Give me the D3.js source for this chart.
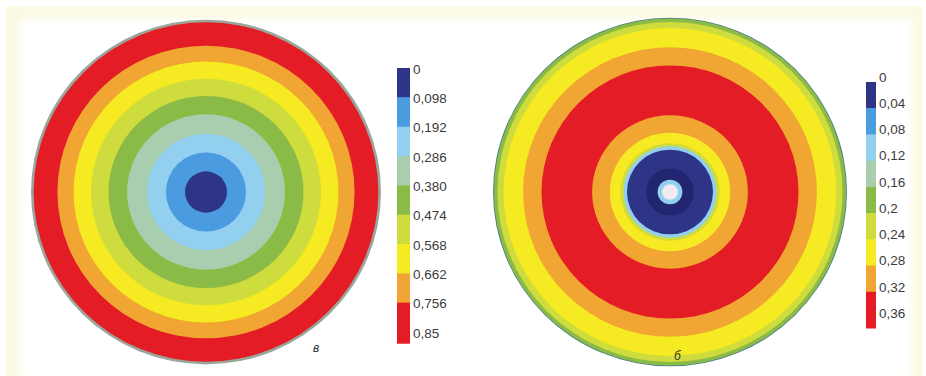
<!DOCTYPE html>
<html>
<head>
<meta charset="utf-8">
<script src="https://cdn.jsdelivr.net/npm/d3@7"></script>
<style>
  body { margin: 0; background: #fff; }
  svg { display: block; font-family: "Liberation Sans", Arial, sans-serif; }
</style>
</head>
<body>
<svg id="chart" width="926" height="376"></svg>
<script>
// legend colour classes, 9 levels (shared by both panels)
var levelColors = ["#2e3487", "#4b9be0", "#93cfee", "#a8cdaf", "#8bbb46", "#cfdc3c", "#f6ea20", "#f1a530", "#e41d26"];

// panel "в": ring outer radii (fraction of disc radius) and their level
var leftEdges  = [0.12, 0.229, 0.337, 0.451, 0.557, 0.657, 0.757, 0.849, 0.985];
var leftLevels = [0, 1, 2, 3, 4, 5, 6, 7, 8];
var leftTicks  = ["0", "0,098", "0,192", "0,286", "0,380", "0,474", "0,568", "0,662", "0,756", "0,85"];

// panel "б": -1 = pale centre, 9 = darker navy ring
var rightEdges  = [0.045, 0.07, 0.135, 0.243, 0.262, 0.28, 0.34, 0.44, 0.726, 0.83, 0.94, 0.975, 0.995];
var rightLevels = [-1, 2, 9, 0, 2, 5, 6, 7, 8, 7, 6, 5, 4];
var rightTicks  = ["0", "0,04", "0,08", "0,12", "0,16", "0,2", "0,24", "0,28", "0,32", "0,36"];

function colorOf(level) {
  if (level == -1) return "#f2eaee";
  if (level == 9) return "#23266f";
  return levelColors[level];
}

var svg = d3.select("#chart");

// soft edges like a scanned print
var defs = svg.append("defs");
defs.append("filter").attr("id", "soft")
  .append("feGaussianBlur").attr("stdDeviation", 0.7);
defs.append("filter").attr("id", "frame")
  .append("feGaussianBlur").attr("stdDeviation", 3);

// pale cream frame of the page
svg.append("rect").attr("x", 6).attr("y", 6).attr("width", 916).attr("height", 372)
  .attr("fill", "#fbfae4");
svg.append("rect").attr("x", 20).attr("y", 19).attr("width", 892).attr("height", 360)
  .attr("fill", "#fff").attr("filter", "url(#frame)");

/* draw one contour disc */
function drawDisc(cx, cy, R, edges, levels, outline) {
  var r = d3.scaleLinear().domain([0, 1]).range([0, R]);
  var g = svg.append("g")
    .attr("transform", "translate(" + cx + "," + cy + ") scale(1,0.985)");

  // outer rim
  g.append("circle").attr("r", r(1)).attr("fill", outline);

  // stack discs from largest to smallest
  var rings = edges.map(function(e, i) { return {r: e, level: levels[i]}; })
    .sort(function(a, b) { return b.r - a.r; });

  g.append("g").attr("filter", "url(#soft)")
    .selectAll("circle").data(rings).enter().append("circle")
    .attr("r", function(d) { return r(d.r); })
    .attr("fill", function(d) { return colorOf(d.level); });
}

drawDisc(206, 192, 175, leftEdges, leftLevels, "#9aa69a");
drawDisc(670, 192, 177, rightEdges, rightLevels, "#4d7c88");

/* colour bar legend */
function drawLegend(x, barW, y0, y1, ticks, labelDy) {
  var y = d3.scaleLinear().domain([0, ticks.length - 1]).range([y0, y1]);
  var bands = d3.range(levelColors.length);
  var g = svg.append("g");

  g.append("g").attr("filter", "url(#soft)")
    .selectAll("rect").data(bands).enter().append("rect")
    .attr("x", x)
    .attr("width", barW)
    .attr("y", function(i) { return y(i); })
    .attr("height", function(i) {
      // last class runs past the final tick
      return i == bands.length - 1 ? y(i + 1.4) - y(i) : y(i + 1) - y(i) + 0.5;
    })
    .attr("fill", function(i) { return levelColors[i]; });

  var axis = d3.axisRight(y)
    .tickValues(d3.range(ticks.length))
    .tickFormat(function(i) { return ticks[i]; })
    .tickSize(0)
    .tickPadding(3);

  var a = g.append("g")
    .attr("transform", "translate(" + (x + barW) + "," + labelDy + ")")
    .call(axis);
  a.select(".domain").remove();
  a.selectAll("text")
    .attr("font-size", 13.5)
    .attr("font-family", "'Liberation Sans', Arial, sans-serif")
    .attr("fill", "#3c3c3c");
}

drawLegend(397, 13, 68, 332, leftTicks, 1);
drawLegend(866, 10, 82, 318, rightTicks, -5);

// panel letters
svg.append("text").attr("x", 313).attr("y", 352).text("в")
  .attr("font-size", 12).attr("font-style", "italic").attr("fill", "#333");
svg.append("text").attr("x", 674).attr("y", 360).text("б")
  .attr("font-size", 12).attr("font-style", "italic").attr("fill", "#333");
</script>
</body>
</html>
